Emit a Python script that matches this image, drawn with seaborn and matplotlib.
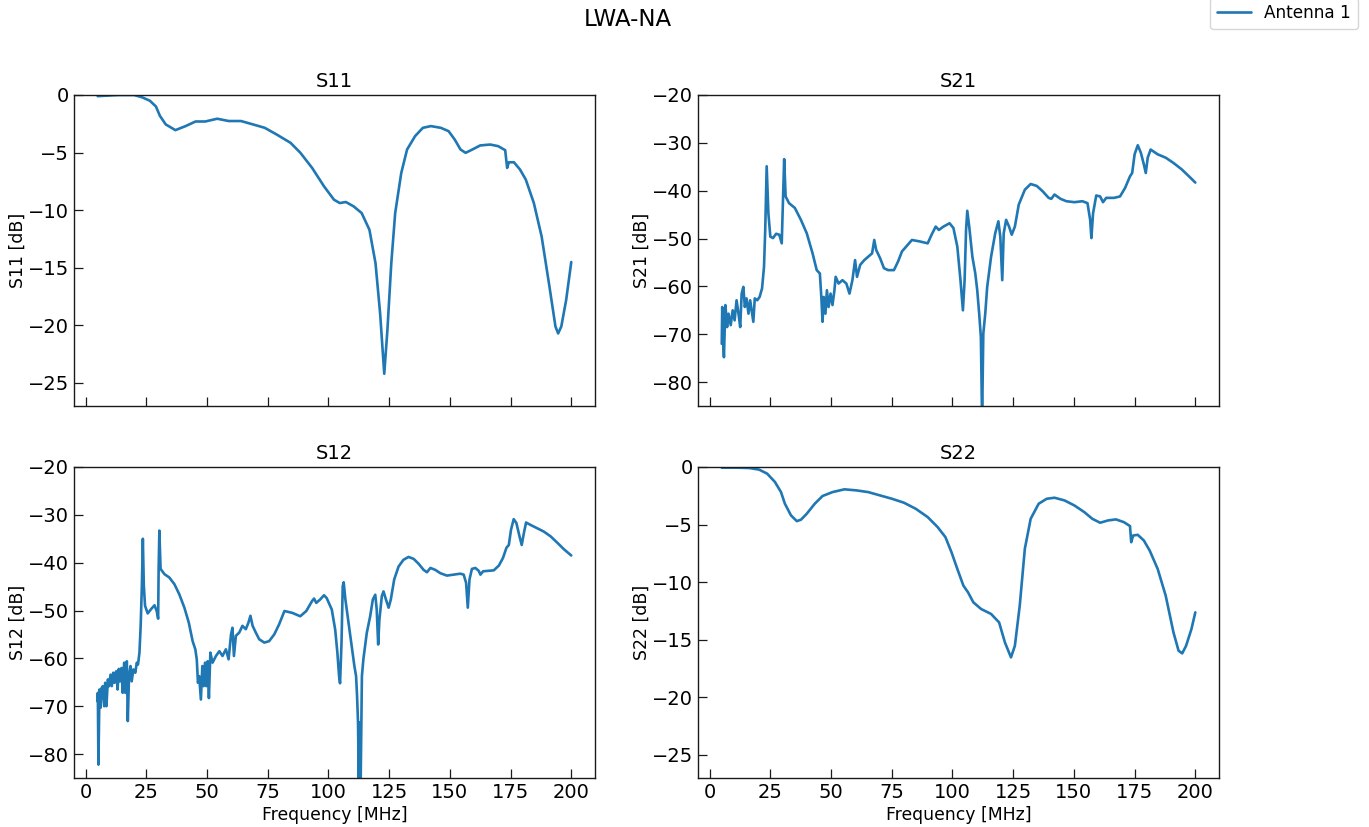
import numpy as np
import pandas as pd
import matplotlib
matplotlib.use("Agg")
import matplotlib.pyplot as plt
import seaborn as sns

# ---------------- data ----------------
s11_freq = [5, 13.5, 20, 23.3, 26.5, 29, 30.6, 33, 37, 41.2, 45.3, 49.3, 54.2, 59, 64, 68.9, 73.8,
            78.7, 84.4, 88.4, 93.3, 98.2, 102.3, 104.7, 107.2, 110.4, 113.7, 116.9, 119.4, 121.3,
            123, 124.3, 125.9, 127.5, 130, 132.4, 135.7, 138.9, 142.2, 146.3, 149.5, 152, 154.4,
            156.5, 159.3, 162.5, 166.6, 169.9, 172.8, 173.6, 174.3, 176.4, 178.9, 181.3, 184.6,
            187.8, 191, 193.5, 194.6, 195.9, 197.9, 200]
s11_db = [-0.1, 0.0, 0.0, -0.2, -0.5, -1.0, -1.8, -2.55, -3.05, -2.7, -2.3, -2.3, -2.06, -2.26,
          -2.26, -2.55, -2.85, -3.43, -4.15, -5.0, -6.33, -7.93, -9.09, -9.38, -9.29, -9.67,
          -10.25, -11.7, -14.6, -18.96, -24.2, -20.4, -14.6, -10.25, -6.77, -4.73, -3.57, -2.85,
          -2.7, -2.85, -3.14, -3.86, -4.73, -5.02, -4.73, -4.38, -4.3, -4.44, -4.79, -6.33, -5.84,
          -5.84, -6.47, -7.35, -9.38, -12.28, -16.6, -20.1, -20.7, -20.1, -17.8, -14.5]

s22_freq = [5, 11.4, 16.3, 20.4, 23.7, 26.9, 29.4, 31, 33.5, 35.9, 37.6, 40, 43.3, 46.5, 50.6,
            55.5, 60.4, 65.3, 70.2, 75.1, 80, 84.9, 89.8, 93.9, 97.1, 99.6, 102, 104.5, 106.4,
            108.6, 111.8, 115.9, 119.2, 121.6, 124.1, 125.7, 127.7, 129.8, 132.2, 135.5, 138.8,
            142, 146.1, 150.2, 154.3, 157.6, 160.8, 164.1, 167.3, 170.6, 173.1, 173.6, 174.4,
            176.3, 178.8, 181.2, 184.5, 187.8, 191, 193.1, 194.6, 196.2, 198.4, 200]
s22_db = [-0.06, -0.06, -0.09, -0.23, -0.58, -1.3, -2.18, -3.19, -4.2, -4.7, -4.58, -4.06, -3.19,
          -2.52, -2.18, -1.94, -2.03, -2.18, -2.47, -2.76, -3.1, -3.63, -4.35, -5.22, -6.09, -7.4,
          -8.85, -10.3, -10.88, -11.75, -12.33, -12.76, -13.49, -15.23, -16.53, -15.52, -12.04,
          -7.1, -4.5, -3.19, -2.76, -2.67, -2.9, -3.34, -3.92, -4.5, -4.84, -4.64, -4.55, -4.79,
          -5.13, -6.53, -5.95, -5.89, -6.38, -7.25, -8.85, -11.17, -14.36, -15.95, -16.18,
          -15.52, -14.07, -12.62]

s21_freq = [5, 5.2, 5.4, 5.9, 6.5, 7.2, 7.8, 8.7, 9.5, 10.3, 11.1, 11.9, 12.6, 13.2, 13.9, 14.5,
            15.2, 16, 16.7, 17.3, 18, 18.6, 19.6, 20.6, 21.6, 22.4, 22.9, 23.5, 24.2, 25, 26.1,
            27.4, 28.7, 29.7, 30.2, 30.7, 31.3, 32.7, 35.1, 37.6, 40, 42.4, 44.1, 45.4, 46, 46.5,
            47, 47.7, 48.3, 49, 49.8, 50.6, 51.4, 51.9, 53.1, 54.7, 56.3, 57.6, 58.8, 59.9, 60.7,
            62, 63.7, 65.3, 66.9, 67.8, 68.6, 70.2, 71.8, 73.5, 75.9, 77.6, 79.2, 81.6, 83.3,
            86.5, 89.8, 91.4, 93.1, 94.4, 96.3, 98.8, 100.4, 102, 103.3, 104.3, 105, 105.6,
            106.1, 106.9, 108.2, 109.4, 110.2, 111, 111.7, 112.2, 112.7, 113.5, 114.3, 115.9,
            117.6, 118.9, 119.7, 120.5, 121.1, 122.1, 123.3, 124.4, 125.7, 127.3, 129.8, 132.2,
            134.7, 137.1, 139.6, 140.7, 142, 144.5, 146.9, 150.2, 153.5, 155.6, 156.7, 157.2,
            157.9, 159.2, 160.8, 162, 163.3, 166.5, 169, 171.1, 173.1, 174, 175, 176.3, 177.6,
            178.8, 179.6, 180.4, 181.6, 184.5, 187.8, 191, 194.3, 197.6, 200]
s21_db = [-72, -64.3, -69.9, -74.8, -63.9, -68.5, -65.7, -68.1, -65, -67.1, -62.9, -65.7, -68.5,
          -61.5, -60.1, -64.3, -62.5, -65.7, -62.9, -65, -67.4, -62.5, -62.9, -62.2, -60.4,
          -55.9, -48.2, -34.9, -44.7, -49.6, -49.9, -49, -49.2, -51, -41.9, -33.4, -41.2, -42.6,
          -43.6, -46.1, -48.9, -53.1, -56.6, -57.3, -62.2, -67.4, -62.2, -65.7, -60.8, -64.3,
          -61.5, -63.9, -60.8, -58, -59.4, -58.7, -59.4, -61.5, -58.7, -54.5, -58, -55.5, -54.5,
          -53.8, -53.1, -50.3, -52.4, -54.1, -56.2, -56.6, -56.6, -54.8, -52.7, -51.3, -50.3,
          -50.6, -51, -49.2, -47.5, -48.2, -47.5, -46.8, -47.8, -51.7, -58.7, -65, -58.7, -48.2,
          -44.2, -47.5, -53.8, -57.3, -60.8, -65.7, -70.6, -88, -69.9, -65.7, -60.1, -53.8,
          -48.9, -46.4, -49.6, -58.7, -48.9, -46.1, -47.5, -49.2, -47.5, -42.9, -39.8, -38.6,
          -39, -40.1, -41.5, -41.7, -40.8, -41.7, -42.2, -42.4, -42.2, -42.6, -46.1, -49.9,
          -44.7, -41, -41.2, -42.4, -41.5, -41.5, -41.2, -39.4, -37, -36.3, -32.4, -30.5, -32.1,
          -34.5, -36.3, -33.1, -31.4, -32.4, -33.1, -34.2, -35.5, -37.1, -38.3]

s12_freq = [5, 5.07, 5.3, 5.5, 5.75, 6.2, 6.6, 7.1, 7.7, 8.1, 8.6, 9.2, 9.7, 10.3, 10.8, 11.4,
            11.9, 12.6, 13.2, 13.7, 14.2, 14.8, 15.3, 15.9, 16.4, 17, 17.4, 17.9, 18.5, 19, 19.7,
            20.5, 21.1, 21.6, 22.2, 22.7, 23.2, 23.6, 24, 24.5, 25.6, 27, 28.4, 29.3, 29.9, 30.1,
            30.4, 30.9, 32.5, 34.5, 36.6, 38.6, 40.7, 42.5, 44.1, 45.2, 45.8, 46.3, 46.8, 47.5,
            48.1, 48.6, 49.2, 49.7, 50.3, 50.8, 51.4, 52.3, 53.7, 55.1, 56.4, 57.8, 58.9, 59.9,
            60.5, 61.1, 61.9, 63.3, 64.6, 66, 67.1, 67.9, 68.8, 70.1, 71.5, 73.6, 75.6, 77.7,
            79.7, 81.9, 85.2, 88.4, 90.9, 93.3, 94.1, 95, 96.6, 98.2, 99.3, 101.4, 102.8, 103.7,
            104.4, 104.8, 105.4, 105.9, 106.3, 107, 108.3, 109.6, 110.7, 111.4, 111.8, 112.2,
            112.5, 112.9, 113.3, 113.8, 114.4, 115.8, 117.2, 118.3, 119.3, 119.9, 120.5, 121,
            122, 122.7, 123.7, 124.8, 125.7, 127.1, 128.9, 130.9, 133, 135.1, 137.1, 139.2,
            140.6, 142, 144, 146.1, 148.8, 151.6, 154.3, 155.7, 156.7, 157.4, 158.1, 159.1,
            160.5, 161.9, 162.6, 163.7, 166, 168.1, 170.2, 171.9, 173.3, 174.3, 175.2, 176.3,
            177.4, 178.7, 179.6, 180.5, 181.4, 183.2, 186, 188.7, 191.5, 194.2, 197, 200]
s12_db = [-69, -67.2, -82.2, -75.6, -66.5, -70.3, -66.2, -65.8, -70, -65.1, -70, -64.4, -65.8,
          -63.4, -65.8, -63, -65.1, -62.7, -66.5, -62.2, -64.8, -62, -67.2, -60.9, -67.2, -60.6,
          -73.1, -63.7, -61.6, -64.8, -62.3, -63, -60.9, -61.3, -58.8, -53.2, -44.8, -35, -44.8,
          -49, -50.6, -49.7, -48.9, -50.1, -51.7, -41.3, -33.3, -41.3, -42.4, -43.1, -44.5,
          -46.6, -49.4, -52.5, -56.4, -58.1, -60.2, -65.1, -63.7, -68.6, -61.6, -65.8, -60.9,
          -65.8, -60.6, -68.3, -58.8, -60.9, -59.5, -58.5, -59.5, -58.1, -60.2, -55, -53.6,
          -59.5, -55.3, -54.6, -53.2, -53.9, -52.5, -51.1, -53.2, -54.6, -56, -56.7, -56.4, -55,
          -52.9, -50.1, -50.5, -51.2, -50.1, -48, -47.5, -48.4, -47.7, -46.8, -47.4, -49.8, -54,
          -58.8, -63.7, -65.2, -56.8, -44.9, -44.1, -47.7, -52.6, -57.4, -61.6, -63.7, -67.8,
          -73.4, -85.5, -73.4, -85.5, -63.7, -60.2, -54.7, -51.2, -47.7, -46.7, -49.8, -57.1,
          -51.9, -47, -46, -47.7, -49.4, -47.7, -43.5, -40.8, -39.4, -38.8, -39.2, -40.2, -41.5,
          -42, -41.1, -41.5, -42.2, -42.7, -42.5, -42.3, -42.5, -44.2, -49.4, -43.5, -41.3,
          -41.1, -41.7, -42.5, -41.8, -41.7, -41.6, -40.6, -39, -36.9, -36.3, -33.1, -30.9,
          -31.7, -34.5, -36.3, -33.8, -31.6, -32.1, -32.8, -33.5, -34.5, -35.8, -37.2, -38.5]

panel_titles = ["S11", "S21", "S12", "S22"]
ylabels = ["S11 [dB]", "S21 [dB]", "S12 [dB]", "S22 [dB]"]
series_label = "Antenna 1"
suptitle = "LWA-NA"
xlabel = "Frequency [MHz]"

# ---------------- style ----------------
sns.set_theme(style="ticks")
plt.rcParams["font.family"] = ["DejaVu Sans"]
plt.rcParams.update({
    "xtick.direction": "in", "ytick.direction": "in",
    "xtick.major.size": 6.5, "ytick.major.size": 6.5,
    "xtick.major.width": 0.9, "ytick.major.width": 0.9,
    "axes.edgecolor": "0.1", "axes.linewidth": 1.0,
    "xtick.color": "0.1", "ytick.color": "0.1",
    "xtick.labelcolor": "black", "ytick.labelcolor": "black",
    "text.color": "black", "axes.labelcolor": "black",
})

fig, axes = plt.subplots(2, 2, figsize=(13.69, 8.27), dpi=100, sharex=True)
fig.subplots_adjust(left=74/1369, right=1219/1369, top=1-95/827, bottom=1-778/827,
                    wspace=0.198, hspace=0.196)

data = [(s11_freq, s11_db), (s21_freq, s21_db), (s12_freq, s12_db), (s22_freq, s22_db)]
ylims = [(-27, 0), (-85, -20), (-85, -20), (-27, 0)]
color = "#1f77b4"

for ax, (f, v), title, yl, lim in zip(axes.flat, data, panel_titles, ylabels, ylims):
    df = pd.DataFrame({"f": f, "v": v})
    sns.lineplot(data=df, x="f", y="v", ax=ax, color=color, linewidth=1.9,
                 estimator=None, sort=False, legend=False)
    ax.set_ylim(*lim)
    ax.set_title(title, fontsize=14, color="black")
    ax.set_ylabel(yl, fontsize=12.5, labelpad=1)
    ax.set_xlabel("")
    ax.set_xticks([0, 25, 50, 75, 100, 125, 150, 175, 200])
    ax.tick_params(labelsize=14)
    for s in ax.spines.values():
        s.set_visible(True)

for ax in axes[1]:
    ax.set_xlabel(xlabel, fontsize=12.4, labelpad=3)
axes[0, 0].set_xlim(-4.75, 209.75)

fig.suptitle(suptitle, x=628/1369, y=0.99, fontsize=16.5)
handle = axes[0, 0].lines[0]
fig.legend([handle], [series_label], loc="upper right",
           bbox_to_anchor=(1358/1369, 1.003), borderaxespad=0, fontsize=12.2)

fig.savefig("out.png", dpi=100)
